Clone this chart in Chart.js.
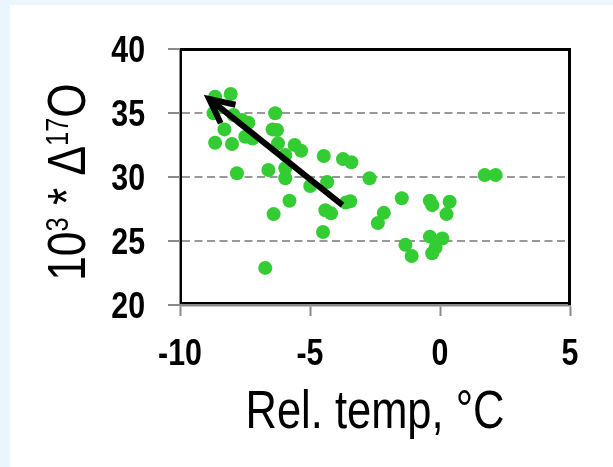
<!DOCTYPE html>
<html>
<head>
<meta charset="utf-8">
<script src="https://cdn.jsdelivr.net/npm/chart.js@4.4.0/dist/chart.umd.min.js"></script>
<style>
  html, body { margin: 0; padding: 0; background: #eaf5fd; }
  #wrap { position: absolute; left: 10px; top: 5px; width: 603px; height: 462px; background: #fff; }
</style>
</head>
<body>
<div id="wrap"><canvas id="chart" width="603" height="462"></canvas></div>
<script>
// relative temperature (°C) and 10^3 * Δ17O for each sample
const relTemp = [
  -8.65, -8.05, -8.71, -7.94, -7.62, -7.37, -8.29, -7.49, -7.21, -8.65,
  -8.0, -6.34, -6.44, -6.27, -6.23, -5.95, -5.59, -5.34, -7.81, -6.6,
  -5.95, -5.95, -4.47, -3.73, -3.41, -4.99, -4.34, -2.71, -5.79, -3.62,
  -3.45, -4.41, -4.19, -6.4, -2.16, -2.39, -4.5, -6.72, -1.47, -0.39,
  -0.3, 0.37, 0.25, 1.72, 2.14, -1.33, -1.09, -0.39, 0.09, -0.17, -0.3
];
const delta17O = [
  36.27, 36.48, 34.98, 34.84, 34.45, 34.24, 33.72, 33.15, 33.0, 32.68,
  32.58, 34.98, 33.72, 33.67, 32.63, 31.72, 32.5, 32.05, 30.29, 30.55,
  30.68, 29.9, 31.64, 31.4, 31.15, 29.3, 29.6, 29.9, 28.15, 28.0,
  28.1, 27.4, 27.16, 27.1, 27.2, 26.4, 25.7, 22.9, 28.34, 28.15,
  27.8, 28.07, 27.1, 30.15, 30.15, 24.7, 23.83, 25.34, 25.2, 24.47, 24.04
];
// trend arrow: tail -> tip
const arrowX = [-3.75, -8.88];
const arrowY = [27.8, 36.1];

const xTickValues = [-10, -5, 0, 5];
const yTickValues = [20, 25, 30, 35, 40];
const xTitle = 'Rel. temp, °C';
// [text, superscript?]
const yTitleParts = [['10', false], ['3', true], [' * \u0394', false], ['17', true], ['O', false]];

const FONT = "'Liberation Sans', Arial, sans-serif";
const NARROW = 0.82; // squeeze to look like Arial Narrow

function narrowText(ctx, text, x, y) {
  ctx.save();
  ctx.translate(x, y);
  ctx.scale(NARROW, 1);
  ctx.fillText(text, 0, 0);
  ctx.restore();
}

// frame, arrow head, tick labels and axis titles
const extras = {
  id: 'extras',
  afterDatasetsDraw(chart) {
    const ctx = chart.ctx;
    const meta = chart.getDatasetMeta(0);
    const tail = meta.data[0];
    const tip = meta.data[1];
    const ang = Math.atan2(tail.y - tip.y, tail.x - tip.x);
    const len = 27;
    const spread = 26 * Math.PI / 180;
    ctx.save();
    ctx.strokeStyle = '#000';
    ctx.lineWidth = 6;
    ctx.lineJoin = 'miter';
    ctx.beginPath();
    ctx.moveTo(tip.x + len * Math.cos(ang - spread), tip.y + len * Math.sin(ang - spread));
    ctx.lineTo(tip.x, tip.y);
    ctx.lineTo(tip.x + len * Math.cos(ang + spread), tip.y + len * Math.sin(ang + spread));
    ctx.stroke();
    ctx.restore();
  },
  afterDraw(chart) {
    const { ctx, chartArea: a, scales } = chart;
    ctx.save();
    // black plot frame
    ctx.strokeStyle = '#000';
    ctx.lineWidth = 3;
    ctx.beginPath();
    ctx.moveTo(a.left, a.top + 0.5);
    ctx.lineTo(a.right - 0.5, a.top + 0.5);
    ctx.lineTo(a.right - 0.5, a.bottom);
    ctx.stroke();
    ctx.lineWidth = 2;
    ctx.beginPath();
    ctx.moveTo(a.left + 1, a.top);
    ctx.lineTo(a.left + 1, a.bottom - 2);
    ctx.lineTo(a.right, a.bottom - 2);
    ctx.stroke();

    ctx.fillStyle = '#000';
    ctx.textBaseline = 'alphabetic';

    // tick labels
    ctx.font = 'bold 37px ' + FONT;
    ctx.textAlign = 'right';
    yTickValues.forEach(v => narrowText(ctx, String(v), a.left - 35, scales.y.getPixelForValue(v) + 13));
    ctx.textAlign = 'center';
    xTickValues.forEach(v => narrowText(ctx, String(v), scales.x.getPixelForValue(v), a.bottom + 60));

    // x title
    ctx.font = '53px ' + FONT;
    narrowText(ctx, xTitle, (a.left + a.right) / 2, a.bottom + 123);

    // y title, rotated, with superscripts
    const big = '54px ' + FONT;
    const small = '31px ' + FONT;
    let total = 0;
    const widths = yTitleParts.map(([t, sup]) => {
      ctx.font = sup ? small : big;
      const w = ctx.measureText(t).width * NARROW;
      total += w;
      return w;
    });
    ctx.translate(75, (a.top + a.bottom) / 2 + 5);
    ctx.rotate(-Math.PI / 2);
    ctx.textAlign = 'left';
    let x = -total / 2;
    yTitleParts.forEach(([t, sup], i) => {
      ctx.font = sup ? small : big;
      narrowText(ctx, t, x, sup ? -17 : 0);
      x += widths[i];
    });
    ctx.restore();
  }
};

new Chart(document.getElementById('chart'), {
  type: 'scatter',
  data: {
    datasets: [
      {
        data: arrowX.map((x, i) => ({ x, y: arrowY[i] })),
        showLine: true,
        borderColor: '#000',
        borderWidth: 6,
        pointRadius: 0,
        order: 0
      },
      {
        data: relTemp.map((x, i) => ({ x, y: delta17O[i] })),
        backgroundColor: '#33cc33',
        borderWidth: 0,
        pointRadius: 7,
        order: 1
      }
    ]
  },
  options: {
    responsive: false,
    animation: false,
    layout: { padding: { top: 44, right: 43, bottom: 62, left: 0 } },
    plugins: { legend: { display: false }, tooltip: { enabled: false } },
    scales: {
      x: {
        type: 'linear',
        min: -10,
        max: 5,
        afterBuildTicks: s => { s.ticks = xTickValues.map(v => ({ value: v })); },
        afterFit: s => { s.height = 100; },
        ticks: { display: false },
        grid: { drawOnChartArea: false, tickLength: 11, tickColor: '#8a8a8a', tickWidth: 2 },
        border: { color: '#8a8a8a', width: 2.5 }
      },
      y: {
        min: 20,
        max: 40,
        afterBuildTicks: s => { s.ticks = yTickValues.map(v => ({ value: v })); },
        afterFit: s => { s.width = 170; },
        ticks: { display: false },
        grid: {
          color: c => (c.tick && (c.tick.value === 20 || c.tick.value === 40)) ? 'rgba(0,0,0,0)' : '#999',
          lineWidth: 2,
          tickLength: 12,
          tickColor: '#8a8a8a',
          tickWidth: 2
        },
        border: { color: '#8a8a8a', width: 3, dash: [8, 4.5] }
      }
    }
  },
  plugins: [extras]
});
</script>
</body>
</html>
